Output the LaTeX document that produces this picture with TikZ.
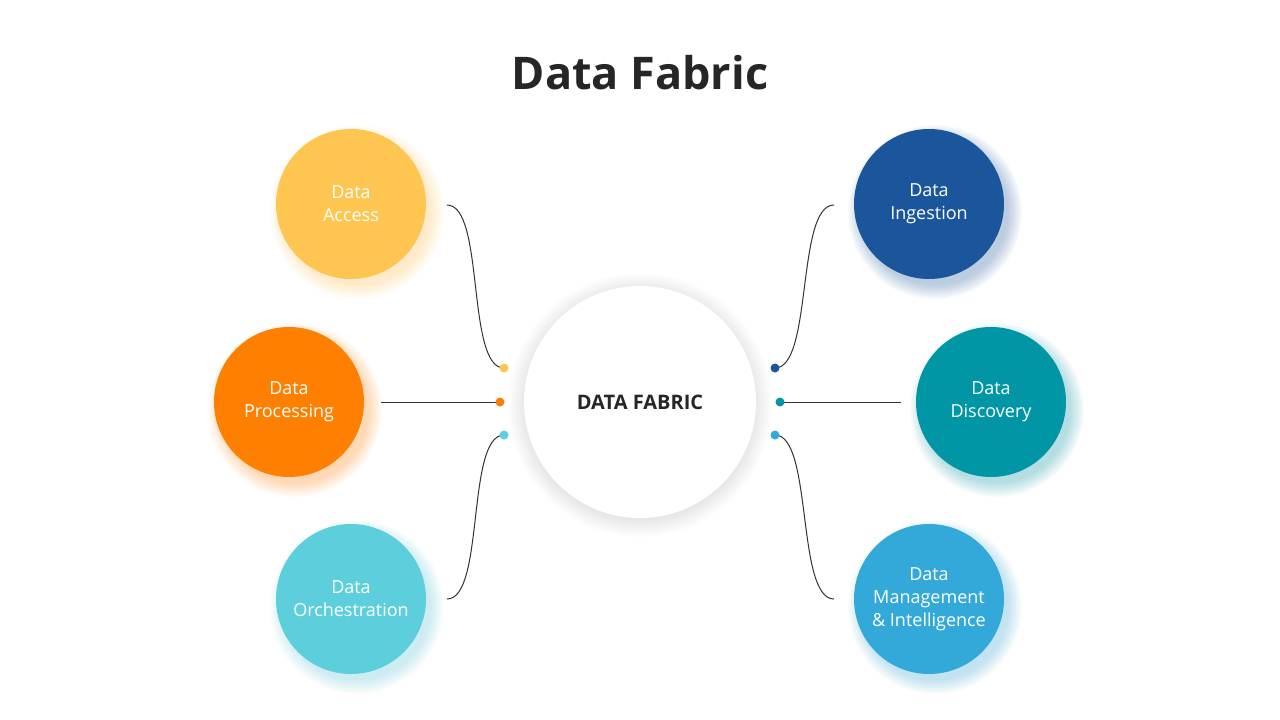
\documentclass[tikz,border=0pt]{standalone}
\usepackage{fontspec}
\setmainfont{Open Sans}
\definecolor{cyel}{HTML}{FFC551}
\definecolor{corg}{HTML}{FF8000}
\definecolor{cltl}{HTML}{5DCFDC}
\definecolor{cdbl}{HTML}{1B569C}
\definecolor{ctea}{HTML}{0096A6}
\definecolor{cblu}{HTML}{33A9D9}
\definecolor{ctxt}{HTML}{262626}
\definecolor{cline}{HTML}{333333}
\newcommand\myglow[4]{%
  \foreach \i in {1,...,10}{\fill[#4,opacity=0.03] (#1+6,#2+8) circle[radius={#3-3+\i*1.5}];}}
\begin{document}
\begin{tikzpicture}[x=1pt,y=-1pt,
  bubble/.style={circle,minimum size=150pt,inner sep=0pt,text=white,align=center,
    font=\fontsize{18}{23}\selectfont},
  dotnode/.style={circle,minimum size=9pt,inner sep=0pt},
  conn/.style={draw=cline,line width=1pt}]
\useasboundingbox (0,0) rectangle (1280,720);
\fill[white] (0,0) rectangle (1280,720);
\node[font=\fontsize{45}{50}\selectfont\bfseries,text=ctxt] (title) at (640,73) {Data Fabric};
% glows
\foreach \i in {1,...,12}{\fill[black,opacity=0.007] (640,405) circle[radius={114+\i*1.5}];}
\myglow{351}{204}{75}{cyel}
\myglow{289}{402}{75}{corg}
\myglow{351}{599}{75}{cltl}
\myglow{929}{204}{75}{cdbl}
\myglow{991}{402}{75}{ctea}
\myglow{929}{599}{75}{cblu}
% center
\node[circle,fill=white,minimum size=232pt,inner sep=0pt,text=ctxt,
  font=\fontsize{20}{24}\selectfont\bfseries] (hub) at (640,402) {DATA FABRIC};
% bubbles
\node[bubble,fill=cyel] (acc) at (351,204) {Data\\Access};
\node[bubble,fill=corg] (proc) at (289,402) {Data\\Processing};
\node[bubble,fill=cltl] (orch) at (351,599) {Data\\Orchestration};
\node[bubble,fill=cdbl] (ing) at (929,204) {Data\\Ingestion};
\node[bubble,fill=ctea] (disc) at (991,402) {Data\\Discovery};
\node[bubble,fill=cblu] (mgmt) at (929,599) {Data\\Management\\\& Intelligence};
% free ends
\coordinate (accE) at (447,205);
\coordinate (procE) at (381,402);
\coordinate (orchE) at (447,599);
\coordinate (ingE) at (834,205);
\coordinate (discE) at (901,402);
\coordinate (mgmtE) at (834,599);
% dots positions
\coordinate (d1) at (504,368);
\coordinate (d2) at (500,402);
\coordinate (d3) at (504,435);
\coordinate (d4) at (775,368);
\coordinate (d5) at (780,402);
\coordinate (d6) at (775,435);
% connectors
\draw[conn] (accE) .. controls +(38,0) and +(-38,0) .. (d1);
\draw[conn] (procE) -- (d2);
\draw[conn] (orchE) .. controls +(38,0) and +(-38,0) .. (d3);
\draw[conn] (ingE) .. controls +(-38,0) and +(38,0) .. (d4);
\draw[conn] (discE) -- (d5);
\draw[conn] (mgmtE) .. controls +(-38,0) and +(38,0) .. (d6);
% dots
\node[dotnode,fill=cyel] (dot1) at (d1) {};
\node[dotnode,fill=corg] (dot2) at (d2) {};
\node[dotnode,fill=cltl] (dot3) at (d3) {};
\node[dotnode,fill=cdbl] (dot4) at (d4) {};
\node[dotnode,fill=ctea] (dot5) at (d5) {};
\node[dotnode,fill=cblu] (dot6) at (d6) {};
\end{tikzpicture}
\end{document}
